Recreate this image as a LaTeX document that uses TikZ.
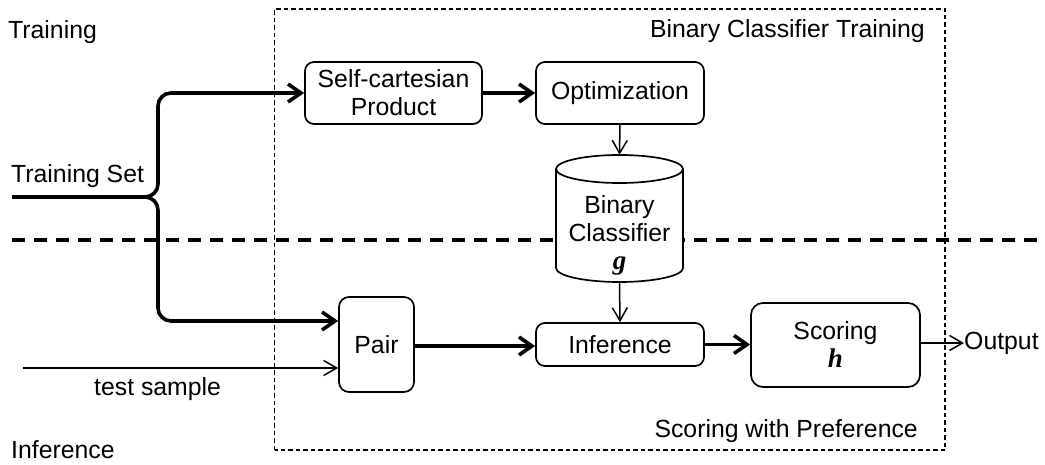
\documentclass[tikz,border=0pt]{standalone}
\usepackage{fontspec}
\setmainfont{Liberation Sans}
\newfontfamily\serifbi{Liberation Serif}
\usetikzlibrary{arrows.meta}
\begin{document}
\begin{tikzpicture}[x=1pt,y=1pt,
  txt/.style={inner sep=0pt,font=\fontsize{24.8}{28}\selectfont},
  box/.style={draw,line width=1.7pt,rounded corners=9pt,align=center,inner sep=0pt,font=\fontsize{24.8}{28}\selectfont},
  thickarr/.style={line width=3.6pt,-{Straight Barb[length=13pt,width=18pt]}},
  thinarr/.style={line width=1.5pt,-{Straight Barb[length=13pt,width=15pt]}}
]
\useasboundingbox (0,0) rectangle (1045,464);
% frames
\draw[line width=1.8pt,dash pattern=on 4.5pt off 3pt] (274.5,14) rectangle (945,455);
\draw[line width=4pt,dash pattern=on 13pt off 9pt] (12,224) -- (1045,224);
% labels
\node[txt,anchor=base west] (ltrain) at (8,425) {Training};
\node[txt,anchor=base west] (linf) at (11,6) {Inference};
\node[txt,anchor=base west] (lset) at (11,281) {Training Set};
\node[txt,anchor=base west] (ltest) at (94,69) {test sample};
\node[txt,anchor=base east] (lbct) at (925,426) {Binary Classifier Training};
\node[txt,anchor=base east] (lswp) at (918,27) {Scoring with Preference};
% boxes
\node[box,minimum width=177pt,minimum height=62pt] (scp) at (393.5,371) {Self-cartesian\\Product};
\node[box,minimum width=168pt,minimum height=62pt] (opt) at (620,371) {Optimization};
\node[box,minimum width=75pt,minimum height=95pt,rounded corners=10pt] (pair) at (376.5,119.5) {Pair};
\node[box,minimum width=168pt,minimum height=43pt] (inf) at (620,119.5) {Inference};
\node[box,minimum width=169pt,minimum height=84pt,rounded corners=12pt] (sco) at (835.5,119) {Scoring\\{\serifbi\fontsize{27}{28}\selectfont\bfseries\itshape h}};
% cylinder
\filldraw[fill=white,line width=1.7pt] (556,295) -- (556,196) arc[start angle=180,end angle=360,x radius=63.5,y radius=14] -- (683,295);
\draw[line width=1.7pt] (619.5,295) ellipse[x radius=63.5,y radius=14];
\node[minimum width=127pt,minimum height=127pt,inner sep=0pt] (cyl) at (619.5,245.5) {};
\node[txt,align=center] (cyltxt) at (619.5,229) {Binary\\Classifier\\{\serifbi\fontsize{27}{28}\selectfont\bfseries\itshape g}};
\node[txt,anchor=west] (out) at (964,121) {Output};
% coordinates
\coordinate (tsin) at (12,267);
\coordinate (br) at (158,267);
% connectors
\draw[line width=3.6pt] (tsin) -- (146,267);
\draw[thickarr,rounded corners=13pt] (146,267) -- (br) |- (scp.west);
\draw[thickarr,rounded corners=13pt] (146,267) -- (br) |- ([yshift=23.5pt]pair.west);
\draw[thinarr] (23,96) -- ([yshift=-23.5pt]pair.west);
\draw[thickarr] (scp.east) -- (opt.west);
\draw[thinarr] (opt.south) -- (cyl.north);
\draw[thinarr] (cyl.south) -- (inf.north);
\draw[thickarr] ([yshift=-1.5pt]pair.east) -- ([yshift=-1.5pt]inf.west);
\draw[thickarr] (inf.east) -- (inf.east -| sco.west);
\draw[thinarr] (sco.east |- out.west) -- (out.west);
\end{tikzpicture}
\end{document}
